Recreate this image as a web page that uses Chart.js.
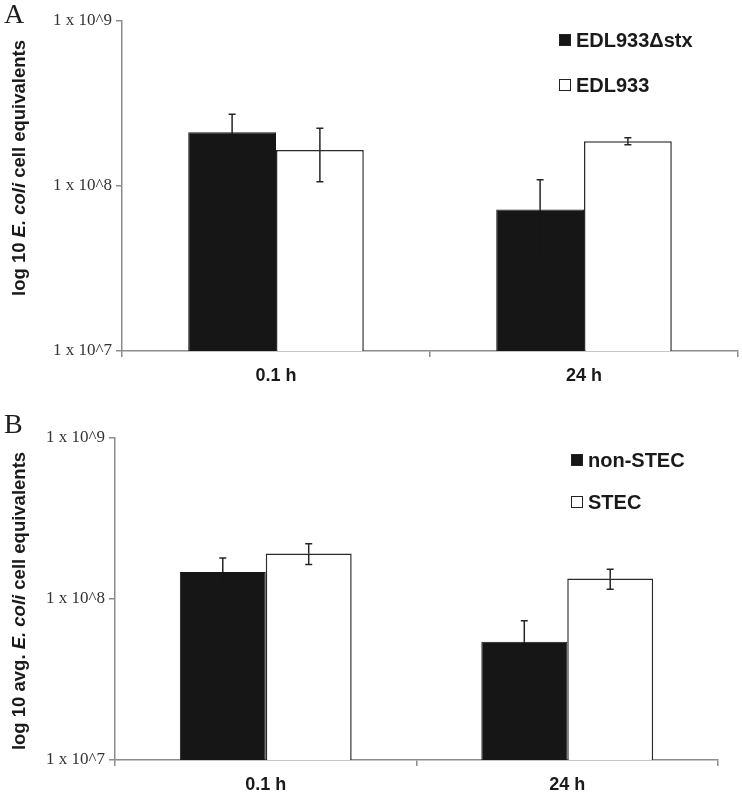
<!DOCTYPE html>
<html>
<head>
<meta charset="utf-8">
<script src="https://cdn.jsdelivr.net/npm/chart.js@4/dist/chart.umd.min.js"></script>
<style>
html, body { margin: 0; padding: 0; background: #fff; }
#wrap { position: relative; width: 742px; height: 792px; }
.panel { position: absolute; left: 0; width: 742px; }
#panelA { top: 0; height: 392px; }
#panelB { top: 392px; height: 400px; }
</style>
</head>
<body>
<div id="wrap">
  <div class="panel" id="panelA"><canvas id="chartA"></canvas></div>
  <div class="panel" id="panelB"><canvas id="chartB"></canvas></div>
</div>
<script>
/* global Chart */

const timeLabels = ["0.1 h", "24 h"];
const yTickValues = [1e7, 1e8, 1e9];

// panel A
const namesA = ["EDL933\u0394stx", "EDL933"];
const deltaStxA = [2.12e8, 7.2e7];
const deltaStxErrA = [0.6e8, 3.7e7];
const wildTypeA = [1.65e8, 1.87e8];
const wildTypeErrA = [0.59e8, 0.09e8];
const titleA = [["log 10 ", false], ["E. coli", true], [" cell equivalents", false]];

// panel B
const namesB = ["non-STEC", "STEC"];
const nonStecB = [1.47e8, 5.43e7];
const nonStecErrB = [0.33e8, 1.9e7];
const stecB = [1.92e8, 1.34e8];
const stecErrB = [0.28e8, 0.19e8];
const titleB = [["log 10 avg. ", false], ["E. coli", true], [" cell equivalents", false]];

const SANS = "'Liberation Sans', Arial, sans-serif";
const SERIF = "'Liberation Serif', 'Times New Roman', serif";

// error bars, legend, panel letter and the mixed-style axis title
const panelExtras = {
    id: "panelExtras",
    afterDatasetsDraw(chart)
    {
        const ctx = chart.ctx;
        const yScale = chart.scales.y;
        ctx.save();
        ctx.lineWidth = 1.5;
        chart.data.datasets.forEach((ds, i) => {
            chart.getDatasetMeta(i).data.forEach((bar, j) => {
                const v = ds.data[j];
                const e = ds.errors[j];
                const top = yScale.getPixelForValue(v + e);
                const mid = yScale.getPixelForValue(v);
                const bot = yScale.getPixelForValue(v - e);
                // upper half
                ctx.strokeStyle = "#262626";
                ctx.beginPath();
                ctx.moveTo(bar.x, top);
                ctx.lineTo(bar.x, mid);
                ctx.moveTo(bar.x - 3.5, top);
                ctx.lineTo(bar.x + 3.5, top);
                ctx.stroke();
                // lower half sits inside the bar
                ctx.strokeStyle = ds.errorInner;
                ctx.beginPath();
                ctx.moveTo(bar.x, mid);
                ctx.lineTo(bar.x, bot);
                ctx.moveTo(bar.x - 3.5, bot);
                ctx.lineTo(bar.x + 3.5, bot);
                ctx.stroke();
            });
        });
        ctx.restore();
    },
    afterDraw(chart, args, opts)
    {
        const ctx = chart.ctx;
        ctx.save();

        // panel letter
        ctx.fillStyle = "#1e1e1e";
        ctx.font = "28px " + SERIF;
        ctx.textBaseline = "alphabetic";
        ctx.textAlign = "left";
        ctx.fillText(opts.letter, 4, opts.letterY);

        // legend
        ctx.font = "bold 20px " + SANS;
        ctx.textBaseline = "middle";
        chart.data.datasets.forEach((ds, i) => {
            const cy = opts.legendY + i * opts.legendGap;
            ctx.fillStyle = ds.backgroundColor;
            ctx.fillRect(opts.legendX, cy - 6, 12, 12);
            ctx.strokeStyle = "#222";
            ctx.lineWidth = 1;
            ctx.strokeRect(opts.legendX + 0.5, cy - 5.5, 11, 11);
            ctx.fillStyle = "#1a1a1a";
            ctx.fillText(ds.label, opts.legendX + 17, cy + 1);
        });

        // rotated y title
        const fonts = opts.title.map(p => (p[1] ? "italic bold " : "bold ") + opts.titleSize + "px " + SANS);
        let total = 0;
        opts.title.forEach((p, i) => {
            ctx.font = fonts[i];
            total += ctx.measureText(p[0]).width;
        });
        ctx.translate(opts.titleX, opts.titleY);
        ctx.rotate(-Math.PI / 2);
        ctx.textBaseline = "alphabetic";
        ctx.fillStyle = "#1a1a1a";
        let x = -total / 2;
        opts.title.forEach((p, i) => {
            ctx.font = fonts[i];
            ctx.fillText(p[0], x, 0);
            x += ctx.measureText(p[0]).width;
        });
        ctx.restore();
    }
};

function makeChart(canvasId, names, values, errors, extras)
{
    return new Chart(
        document.getElementById(canvasId),
        {
            type: "bar",
            data: {
                labels: timeLabels,
                datasets: [
                    {
                        label: names[0],
                        data: values[0],
                        errors: errors[0],
                        errorInner: "#161616",
                        backgroundColor: "#161616",
                        borderColor: "#161616",
                        borderWidth: 1
                    },
                    {
                        label: names[1],
                        data: values[1],
                        errors: errors[1],
                        errorInner: "#262626",
                        backgroundColor: "#ffffff",
                        borderColor: "#2b2b2b",
                        borderWidth: 1.5
                    }
                ]
            },
            options: {
                responsive: true,
                maintainAspectRatio: false,
                animation: false,
                categoryPercentage: 0.57,
                barPercentage: 1,
                layout: { padding: extras.padding },
                plugins: {
                    legend: { display: false },
                    tooltip: { enabled: false },
                    panelExtras: extras
                },
                scales: {
                    x: {
                        grid: { offset: true, drawOnChartArea: false, color: "#8c8c8c", tickLength: 6, lineWidth: 1.5 },
                        border: { color: "#8c8c8c", width: 1.5 },
                        ticks: { color: "#1a1a1a", padding: 8, font: { family: SANS, size: 18, weight: "bold" } },
                        afterFit(scale) { scale.height = extras.xHeight; }
                    },
                    y: {
                        type: "logarithmic",
                        min: 1e7,
                        max: 1e9,
                        grid: { drawOnChartArea: false, color: "#8c8c8c", tickLength: 6, lineWidth: 1.5 },
                        border: { color: "#8c8c8c", width: 1.5 },
                        ticks: {
                            color: "#333",
                            padding: 4,
                            font: { family: SERIF, size: 17 },
                            callback: v => "1 x 10^" + Math.round(Math.log10(v))
                        },
                        afterBuildTicks(scale) { scale.ticks = yTickValues.map(v => ({ value: v })); },
                        afterFit(scale) { scale.width = extras.yWidth; }
                    }
                }
            },
            plugins: [panelExtras]
        }
    );
}

makeChart("chartA", namesA, [deltaStxA, wildTypeA], [deltaStxErrA, wildTypeErrA], {
    padding: { top: 21, right: 4, left: 0, bottom: 0 },
    yWidth: 122, xHeight: 41,
    letter: "A", letterY: 23,
    legendX: 559, legendY: 40, legendGap: 45,
    title: titleA, titleSize: 18.5, titleX: 25, titleY: 168
});

makeChart("chartB", namesB, [nonStecB, stecB], [nonStecErrB, stecErrB], {
    padding: { top: 46, right: 24, left: 0, bottom: 0 },
    yWidth: 115, xHeight: 32,
    letter: "B", letterY: 41,
    legendX: 571, legendY: 68, legendGap: 42,
    title: titleB, titleSize: 18.5, titleX: 25, titleY: 209
});
</script>
</body>
</html>
